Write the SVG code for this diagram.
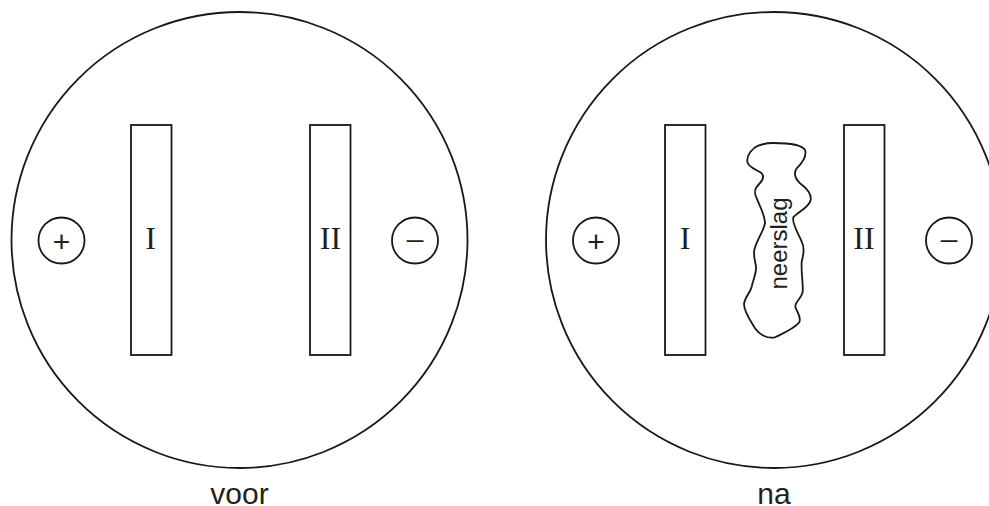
<svg xmlns="http://www.w3.org/2000/svg" width="989" height="506" viewBox="0 0 989 506">
<style>
.s{fill:none;stroke:#1a1718;stroke-width:1.8}
.r{font-family:"Liberation Serif",serif;font-size:32px;fill:#231f20;text-anchor:middle}
.a{font-family:"Liberation Sans",Arial,sans-serif;fill:#231f20;text-anchor:middle}
.l{font-size:30px}
.p{font-size:30px}
.m{font-family:"Liberation Serif",serif;font-size:36px;fill:#231f20;text-anchor:middle}
</style>
<rect width="989" height="506" fill="#fff"/>
<g id="voor">
<circle class="s" cx="239.5" cy="240" r="228"/>
<text class="a l" x="239.5" y="504">voor</text>
</g>
<g id="na">
<circle class="s" cx="774" cy="240" r="228"/>
<text class="a l" x="774" y="504">na</text>
</g>
<g id="plus-voor"><circle class="s" cx="61.500" cy="240.500" r="23"/><text class="a p" x="61.500" y="252">+</text></g>
<g id="plate-I-voor"><rect class="s" x="131" y="125" width="40.500" height="230"/><text class="r" x="150.500" y="249">I</text></g>
<g id="plate-II-voor"><rect class="s" x="310" y="125" width="40.500" height="230"/><text class="r" x="330.500" y="249">II</text></g>
<g id="minus-voor"><circle class="s" cx="415" cy="240.500" r="23"/><text class="m" x="415" y="253">−</text></g>
<g id="plus-na"><circle class="s" cx="596" cy="240.500" r="23"/><text class="a p" x="596" y="252">+</text></g>
<g id="plate-I-na"><rect class="s" x="665" y="125" width="40.500" height="230"/><text class="r" x="685" y="249">I</text></g>
<g id="neerslag">
<path class="s" d="M773.300 143C786.700 143 801.700 144 805 150C807.300 156.700 801.700 163.300 796.700 168.300C793.300 173.300 795 178.300 800 183.300C806.700 188.300 811.700 193.300 810.700 200C809.300 207.300 798.300 211.700 793.300 217.300C791.700 223.300 798.300 233.300 801.700 241.700C805 248.300 803.300 255 801.700 261.700C801 273.300 803.300 283.300 802.700 291.700C801.700 298.300 795 301.700 795.300 306.700C796.700 311.700 801.700 316.700 799.300 322.300C795 328.300 783.300 333.300 775 337.300C766.700 339.300 758.300 333.300 755 328.300C750 320 744 311.700 744 304C745 296.700 750 293.300 751.700 286.700C753.300 278.300 756.700 273.300 756 266.700C755 260 753.300 256.700 754.300 250C756.700 240 763.300 231.700 765 223.300C765 215 760 206.700 756.700 198.300C753.300 191.700 755 188.300 758.300 185C761.700 181.700 765 176.700 761.700 173.300C758.300 170 748.300 168.300 747.300 161.700C746.700 155 751.700 148.300 758.300 145.700C763.300 143.700 768.300 143 773.300 143Z"/>
<text class="a" font-size="24" fill="#333" transform="translate(786.500 243.500) rotate(-90)">neerslag</text>
</g>
<g id="plate-II-na"><rect class="s" x="844" y="125" width="40.500" height="230"/><text class="r" x="864" y="249">II</text></g>
<g id="minus-na"><circle class="s" cx="949" cy="240.500" r="23"/><text class="m" x="949" y="253">−</text></g>
</svg>
